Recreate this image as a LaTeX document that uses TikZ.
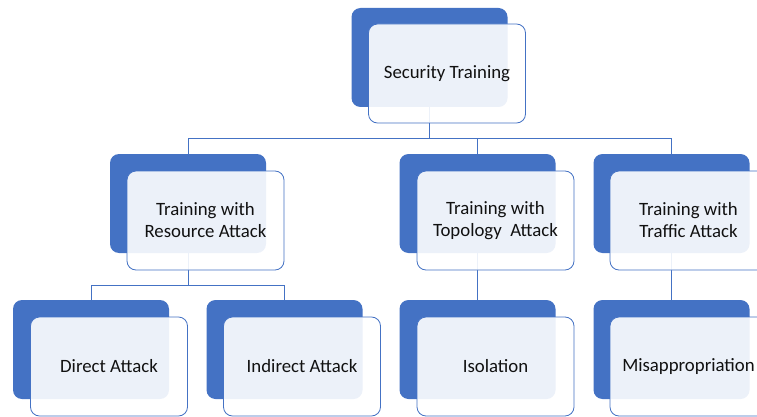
\documentclass[tikz,border=0pt]{standalone}
\usepackage{fontspec}
\setmainfont{Carlito}
\definecolor{accent}{HTML}{4472C4}
\definecolor{txt}{HTML}{111111}
\tikzset{
  backbox/.style={fill=accent, rounded corners=9pt, minimum width=156pt, minimum height=99pt, inner sep=0pt},
  frontbox/.style={draw=accent, line width=0.8pt, fill=white, fill opacity=0.9, text opacity=1, text=txt,
    rounded corners=9pt, minimum width=157pt, minimum height=99pt, inner sep=0pt, align=center,
    font=\fontsize{18.8}{22}\selectfont},
  link/.style={draw=accent, line width=0.8pt}
}
\begin{document}
\begin{tikzpicture}[x=1pt,y=-1pt]
\useasboundingbox (0,0) rectangle (757,417);
\clip (0,0) rectangle (757,417);
% back boxes
\node[backbox] (topB) at (429.5,57.5) {};
\node[backbox] (resB) at (188,203.5) {};
\node[backbox] (topoB) at (477.5,203.5) {};
\node[backbox] (trafB) at (671.5,203.5) {};
\node[backbox] (dirB) at (91,349.5) {};
\node[backbox] (indB) at (284.5,349.5) {};
\node[backbox] (isoB) at (477.5,349.5) {};
\node[backbox] (misB) at (671.5,349.5) {};
% connectors
\coordinate (bus1) at (0,138);
\coordinate (bus2) at (0,285);
\draw[link] (topB.south) -- (topB.south |- bus1) -| (resB.north);
\draw[link] (topB.south |- bus1) -| (topoB.north);
\draw[link] (topB.south |- bus1) -| (trafB.north);
\draw[link] (resB.south) -- (resB.south |- bus2) -| (dirB.north);
\draw[link] (resB.south |- bus2) -| (indB.north);
\draw[link] (topoB.south) -- (isoB.north);
\draw[link] (trafB.south) -- (misB.north);
% front boxes
\node[frontbox] (top) at (447,73.5) {Security Training};
\node[frontbox] (res) at (205.5,220.5) {Training with\\Resource Attack};
\node[frontbox] (topo) at (495.5,220.5) {Training with\\Topology~ Attack};
\node[frontbox] (traf) at (688.5,220.5) {Training with\\Traffic Attack};
\node[frontbox] (dir) at (109,366.5) {Direct Attack};
\node[frontbox] (ind) at (302,366.5) {Indirect Attack};
\node[frontbox] (iso) at (495.5,366.5) {Isolation};
\node[frontbox] (mis) at (688.5,366.5) {Misappropriation};
\end{tikzpicture}
\end{document}
